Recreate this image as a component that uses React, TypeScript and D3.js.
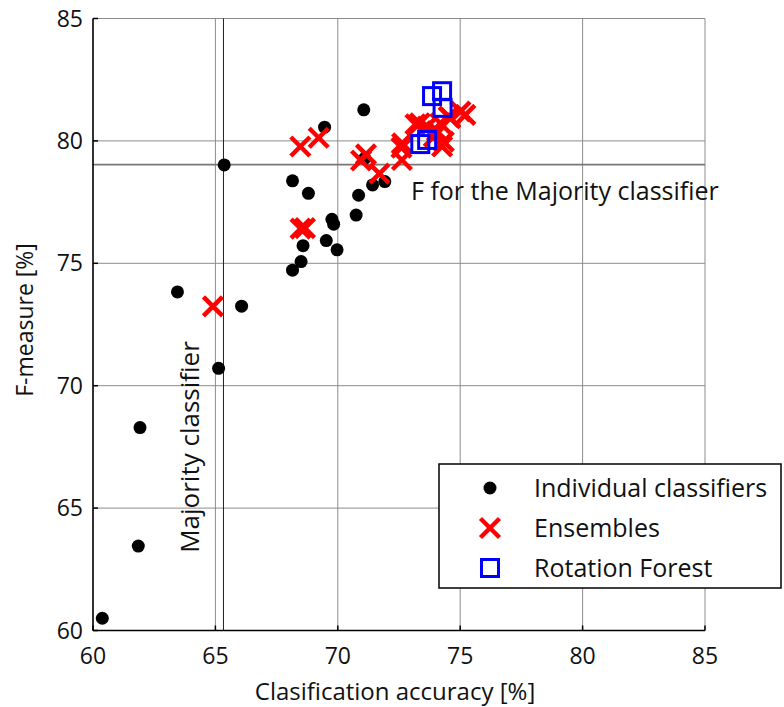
import React from "react";
import * as d3 from "d3";

const xTicks = [60, 65, 70, 75, 80, 85];
const yTicks = [60, 65, 70, 75, 80, 85];

const indivX = [60.38, 61.85, 61.92, 63.45, 65.13, 66.07, 65.36, 71.06, 69.46, 71.1, 68.15, 68.8, 70.85, 71.42, 71.92, 70.75, 69.76, 69.83, 69.53, 69.97, 68.58, 68.5, 68.15];
const indivY = [60.5, 63.45, 68.29, 73.83, 70.71, 73.25, 79.02, 81.27, 80.56, 79.29, 78.37, 77.86, 77.78, 78.2, 78.34, 76.97, 76.8, 76.6, 75.93, 75.55, 75.72, 75.07, 74.72];

const ensX = [64.9, 68.47, 69.22, 70.95, 71.15, 71.7, 68.48, 68.66, 72.62, 72.6, 72.63, 73.17, 73.35, 73.65, 73.92, 74.26, 74.19, 74.53, 74.6, 75.01, 75.21, 74.33, 74.05];
const ensY = [73.24, 79.77, 80.13, 79.2, 79.45, 78.66, 76.42, 76.44, 79.22, 79.72, 79.9, 80.68, 80.72, 80.58, 80.17, 79.77, 80.72, 80.99, 80.93, 81.2, 81.06, 79.97, 80.4];

const rfX = [73.85, 74.26, 74.28, 73.65, 73.37];
const rfY = [81.83, 82.03, 81.35, 80.04, 79.87];

const majorityAcc = 65.33;
const majorityF = 79.03;

const legendLabels = ["Individual classifiers", "Ensembles", "Rotation Forest"];

const FONT = "'Open Sans', sans-serif";

export default function App() {
  const W = 784, H = 707;
  const x = d3.scaleLinear().domain([60, 85]).range([93, 705]);
  const y = d3.scaleLinear().domain([60, 85]).range([630.5, 18.5]);
  const [x0, x1] = x.range();
  const [y0, y1] = y.range();

  const cross = (cx: number, cy: number, s: number, key: any) => (
    <g key={key} stroke="#ff0000" strokeWidth={4.5}>
      <line x1={cx - s} y1={cy - s} x2={cx + s} y2={cy + s} />
      <line x1={cx - s} y1={cy + s} x2={cx + s} y2={cy - s} />
    </g>
  );

  return (
    <svg width={W} height={H} style={{ position: "absolute", left: 0, top: 0 }} fontFamily={FONT}>
      <rect width={W} height={H} fill="#fff" />
      {/* grid */}
      {xTicks.map((t) => (
        <line key={"gx" + t} x1={x(t)} x2={x(t)} y1={y0} y2={y1} stroke="#8c8c8c" strokeWidth={1} />
      ))}
      {yTicks.map((t) => (
        <line key={"gy" + t} x1={x0} x2={x1} y1={y(t)} y2={y(t)} stroke="#8c8c8c" strokeWidth={1} />
      ))}
      {/* majority lines */}
      <line x1={x0} x2={x1} y1={y(majorityF)} y2={y(majorityF)} stroke="#777" strokeWidth={1.6} />
      <line x1={x(majorityAcc)} x2={x(majorityAcc)} y1={y0} y2={y1} stroke="#222" strokeWidth={1} />

      {/* individual */}
      {indivX.map((v, i) => (
        <circle key={"d" + i} cx={x(v)} cy={y(indivY[i])} r={6.5} fill="#000" />
      ))}
      {/* ensembles */}
      {ensX.map((v, i) => cross(x(v), y(ensY[i]), 9.5, "e" + i))}
      {/* rotation forest */}
      {rfX.map((v, i) => (
        <rect key={"r" + i} x={x(v) - 8.5} y={y(rfY[i]) - 8.5} width={17} height={17} fill="none" stroke="#0000ff" strokeWidth={3} />
      ))}

      {/* annotations */}
      <text x={411} y={200} fontSize={25} fill="#111">F for the Majority classifier</text>
      <text transform={`translate(199,447) rotate(-90)`} textAnchor="middle" fontSize={26} fill="#111">Majority classifier</text>

      {/* axes */}
      <line x1={x0} x2={x0} y1={y0} y2={y1} stroke="#000" strokeWidth={1.5} />
      <line x1={x0} x2={x1} y1={y0} y2={y0} stroke="#000" strokeWidth={1.5} />
      {xTicks.map((t) => (
        <g key={"xt" + t}>
          <line x1={x(t)} x2={x(t)} y1={y0} y2={y0 - 5} stroke="#000" strokeWidth={1.5} />
          <text x={x(t)} y={664} textAnchor="middle" fontSize={23} fill="#111">{t}</text>
        </g>
      ))}
      {yTicks.map((t) => (
        <g key={"yt" + t}>
          <line x1={x0} x2={x0 + 5} y1={y(t)} y2={y(t)} stroke="#000" strokeWidth={1.5} />
          <text x={83} y={y(t)} dy="0.35em" textAnchor="end" fontSize={23} fill="#111">{t}</text>
        </g>
      ))}
      <text x={395} y={700} textAnchor="middle" fontSize={24} fill="#111">Clasification accuracy [%]</text>
      <text transform={`translate(33,320) rotate(-90)`} textAnchor="middle" fontSize={23} fill="#111">F-measure [%]</text>

      {/* legend */}
      <rect x={439} y={464} width={342} height={124} fill="#fff" stroke="#000" strokeWidth={1.5} />
      <circle cx={490} cy={488} r={6.5} fill="#000" />
      {cross(490, 528, 9.5, "lg")}
      <rect x={481.5} y={559.5} width={17} height={17} fill="none" stroke="#0000ff" strokeWidth={3} />
      {legendLabels.map((l, i) => (
        <text key={l} x={534} y={497 + i * 40} fontSize={25} fill="#111">{l}</text>
      ))}
    </svg>
  );
}
